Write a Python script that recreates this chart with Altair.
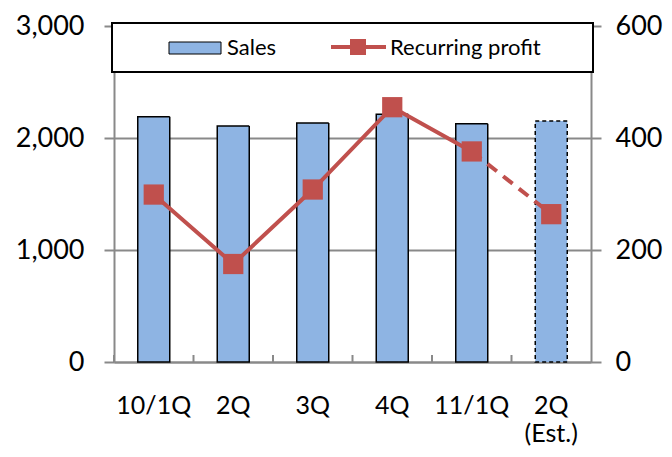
import altair as alt
import pandas as pd

quarters = ["10/1Q", "2Q", "3Q", "4Q", "11/1Q", "2Q\n(Est.)"]
sales = [2190, 2107, 2133, 2211, 2127, 2151]
profit = [299, 175, 308, 455, 376, 264]
estimate = [False, False, False, False, False, True]
left_ticks = [0, 1000, 2000, 3000]
right_ticks = [0, 200, 400, 600]
legend_labels = ["Sales", "Recurring profit"]

df = pd.DataFrame({"q": quarters, "sales": sales, "profit": profit, "est": estimate})
solid_df = df.iloc[:5]
dash_df = df.iloc[4:]
one = pd.DataFrame({"k": [0]})

FONT = "Lato"
BLUE = "#8EB4E3"
RED = "#C0504D"
GRAY = "#898989"

W, H = 477, 336


def xenc(**kw):
    return alt.X(
        "q:N", sort=quarters,
        scale=alt.Scale(paddingInner=0, paddingOuter=0),
        axis=alt.Axis(title=None, labelAngle=0, ticks=False,
                      labelExpr="split(datum.label, '\\n')",
                      labelFontSize=25, labelFont=FONT, labelColor="black",
                      labelPadding=31, labelLineHeight=28,
                      domainColor=GRAY, domainWidth=2),
        **kw)


bars = alt.Chart(df).mark_bar(width=32, fill=BLUE, stroke="black", strokeWidth=1.5).encode(
    x=xenc(),
    y=alt.Y("sales:Q", scale=alt.Scale(domain=[0, 3000]),
            axis=alt.Axis(values=left_ticks, format=",.0f", title=None, grid=True,
                          gridColor=GRAY, gridWidth=2, tickSize=10, tickColor=GRAY,
                          tickWidth=2, domainColor=GRAY, domainWidth=2,
                          labelPadding=20, labelFontSize=27, labelFont=FONT,
                          labelColor="black")),
    strokeDash=alt.condition("datum.est", alt.value([4, 3]), alt.value([1, 0])),
)

xticks = alt.Chart(df).mark_rule(color=GRAY, strokeWidth=2).encode(
    x=xenc(bandPosition=0),
    y=alt.value(H - 7), y2=alt.value(H),
)

yr = alt.Scale(domain=[0, 600])
yr_axis = alt.Axis(values=right_ticks, orient="right", title=None, grid=False,
                   tickSize=10, tickColor=GRAY, tickWidth=2, domainColor=GRAY,
                   domainWidth=2, labelPadding=14, labelFontSize=27,
                   labelFont=FONT, labelColor="black")

line_solid = alt.Chart(solid_df).mark_line(color=RED, strokeWidth=4).encode(
    x=xenc(), y=alt.Y("profit:Q", scale=yr, axis=yr_axis))
line_dash = alt.Chart(dash_df).mark_line(color=RED, strokeWidth=4, strokeDash=[12, 8]).encode(
    x=xenc(), y=alt.Y("profit:Q", scale=yr, axis=yr_axis))
points = alt.Chart(df).mark_square(size=410, color=RED, opacity=1).encode(
    x=xenc(), y=alt.Y("profit:Q", scale=yr, axis=yr_axis))

right = alt.layer(line_solid, line_dash, points)

box = alt.Chart(one).mark_rect(fill="white", stroke="black", strokeWidth=2).encode(
    x=alt.value(-2), x2=alt.value(479), y=alt.value(-3), y2=alt.value(46))
swatch = alt.Chart(one).mark_rect(fill=BLUE, stroke="black", strokeWidth=1).encode(
    x=alt.value(55), x2=alt.value(107), y=alt.value(16), y2=alt.value(28))
t1 = alt.Chart(one).mark_text(text=legend_labels[0], align="left", baseline="alphabetic",
                              font=FONT, fontSize=22, color="black").encode(
    x=alt.value(113), y=alt.value(29))
lrule = alt.Chart(one).mark_rule(color=RED, strokeWidth=4).encode(
    x=alt.value(217), x2=alt.value(272), y=alt.value(21))
lsq = alt.Chart(one).mark_square(size=256, color=RED, opacity=1).encode(
    x=alt.value(244), y=alt.value(21))
t2 = alt.Chart(one).mark_text(text=legend_labels[1], align="left", baseline="alphabetic",
                              font=FONT, fontSize=22, color="black").encode(
    x=alt.value(276), y=alt.value(29))

chart = alt.layer(bars, xticks, right, box, swatch, t1, lrule, lsq, t2).resolve_scale(
    y="independent"
).properties(
    width=W, height=H,
    autosize=alt.AutoSizeParams(type="none"),
    padding={"left": 106, "top": 18, "right": 73, "bottom": 87},
).configure_view(strokeWidth=0).configure(background="white")

chart.save("out.html", embed_options={"renderer": "svg", "actions": False})
